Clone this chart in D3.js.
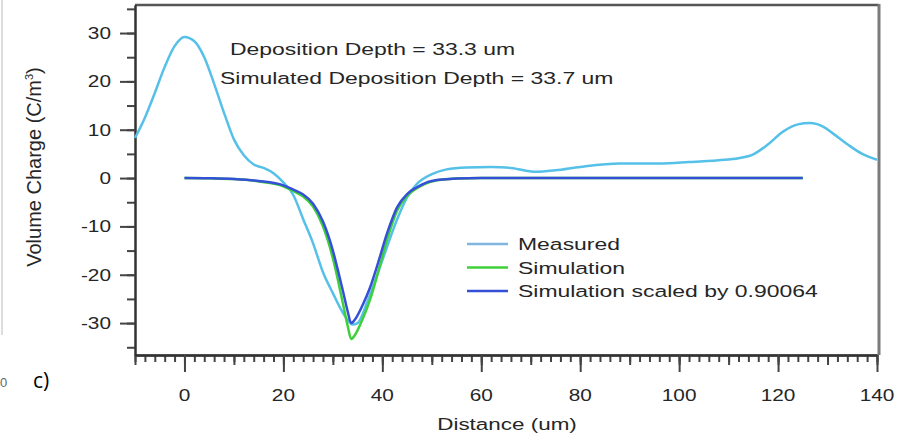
<!DOCTYPE html>
<html>
<head>
<meta charset="utf-8">
<script src="https://cdn.jsdelivr.net/npm/d3@7"></script>
<style>
  body { margin: 0; background: #fff; }
  text { font-family: "Liberation Sans", Arial, sans-serif; fill: #262626; }
</style>
</head>
<body>
<div class="chart"></div>
<script>
// measured volume charge (C/m^3) vs distance (um)
var measuredX = [-10, -8, -6, -4, -2, 0, 2, 4, 6, 8, 10, 12, 14, 16, 18, 20, 22, 24, 26, 28, 30, 32, 34, 35, 37, 40, 43, 45, 47, 50, 53, 57, 62, 66, 71, 75, 80, 88, 96, 102, 108, 112, 115, 118, 121, 124, 126.5, 129, 131, 134, 137, 140];
var measuredY = [8.3, 12.5, 17.6, 23, 27.3, 29.2, 28.3, 25, 19.5, 13.5, 8, 4.7, 2.8, 2.1, 1, -0.9, -3.5, -8.5, -13.5, -19.5, -23.8, -27.8, -30.3, -30, -25.5, -17, -8.5, -4, -1.2, 0.8, 1.8, 2.2, 2.3, 2.1, 1.3, 1.6, 2.3, 3, 3, 3.3, 3.7, 4.1, 4.9, 7, 9.6, 11.1, 11.4, 10.7, 9.3, 7, 5, 3.8];

// simulation curves share the same x samples
var simX = [0, 5, 10, 15, 20, 22, 24, 26, 28, 30, 31, 32, 33, 33.7, 34.5, 36, 37.5, 39, 41, 43, 45, 47, 50, 55, 60, 80, 100, 125];
var simY = [0, -0.05, -0.2, -0.7, -1.7, -2.7, -3.8, -5.9, -10, -16.6, -21, -25.8, -30.6, -33.3, -32.4, -29.2, -25.2, -20, -12.6, -6.7, -3.7, -2.1, -0.7, -0.1, 0, 0, 0, 0];
var scaledY = [0, -0.05, -0.2, -0.6, -1.5, -2.4, -3.4, -5.3, -9, -15, -19, -23.2, -27.6, -30, -29.2, -26.3, -22.7, -18, -11.3, -6, -3.3, -1.9, -0.6, -0.1, 0, 0, 0, 0];

var xTickValues = [0, 20, 40, 60, 80, 100, 120, 140];
var yTickValues = [-30, -20, -10, 0, 10, 20, 30];
var seriesNames = ["Measured", "Simulation", "Simulation scaled by 0.90064"];
var seriesColors = ["#55c0e8", "#3fcf3a", "#3550d6"];
var legendColors = ["#7fb6df", "#3fcf3a", "#3550d6"];
var notes = ["Deposition Depth = 33.3 um", "Simulated Deposition Depth = 33.7 um"];

var width = 897, height = 438;
var plot = {left: 135, right: 877, top: 5, bottom: 355};

var svg = d3.select(".chart").append("svg")
    .attr("width", width)
    .attr("height", height);

var x = d3.scaleLinear().domain([-10, 140]).range([plot.left, plot.right]);
var y = d3.scaleLinear().domain([-36.6, 35.8]).range([plot.bottom, plot.top]);

// text in the original is horizontally stretched
function stretch(sel, sx) {
    sel.each(function() {
        var t = d3.select(this);
        t.attr("transform", "translate(" + t.attr("x") + "," + t.attr("y") + ") scale(" + sx + ",1)")
         .attr("x", 0).attr("y", 0);
    });
}

// faint page edge on the left
svg.append("line")
    .attr("x1", 2).attr("x2", 2).attr("y1", 0).attr("y2", 335)
    .attr("stroke", "#ddd").attr("stroke-width", 2);

// frame: top and right
svg.append("line")
    .attr("x1", plot.left).attr("x2", plot.right + 2)
    .attr("y1", plot.top).attr("y2", plot.top)
    .attr("stroke", "#555").attr("stroke-width", 2.5);
svg.append("line")
    .attr("x1", plot.right + 2).attr("x2", plot.right + 2)
    .attr("y1", plot.top - 1).attr("y2", plot.bottom)
    .attr("stroke", "#7a7a7a").attr("stroke-width", 3);

// x axis ticks
function xAxis(values, size) {
    return d3.axisBottom(x).tickValues(values).tickSize(size).tickSizeOuter(0).tickFormat("");
}
var xMinor = d3.range(-10, 141, 2), xMid = d3.range(-10, 141, 10);
[[xMinor, 7], [xMid, 10], [xTickValues, 17]].forEach(function(a) {
    svg.append("g")
        .attr("transform", "translate(0," + plot.bottom + ")")
        .call(xAxis(a[0], a[1]))
        .call(function(g) {
            g.select(".domain").attr("stroke", "#333").attr("stroke-width", 2);
            g.selectAll(".tick line").attr("stroke", "#444").attr("stroke-width", 2);
        });
});

// y axis ticks
var yMinor = d3.range(-35, 36, 5);
[[yMinor, 8], [yTickValues, 15]].forEach(function(a) {
    svg.append("g")
        .attr("transform", "translate(" + plot.left + ",0)")
        .call(d3.axisLeft(y).tickValues(a[0]).tickSize(a[1]).tickSizeOuter(0).tickFormat(""))
        .call(function(g) {
            g.select(".domain").attr("stroke", "#333").attr("stroke-width", 2);
            g.selectAll(".tick line").attr("stroke", "#444").attr("stroke-width", 2);
        });
});

// tick labels
svg.append("g").selectAll("text")
    .data(xTickValues)
    .enter().append("text")
    .attr("x", function(d) { return x(d); })
    .attr("y", 401)
    .attr("text-anchor", "middle")
    .style("font-size", "16px")
    .text(function(d) { return d; })
    .call(stretch, 1.3);

svg.append("g").selectAll("text")
    .data(yTickValues)
    .enter().append("text")
    .attr("x", 111)
    .attr("y", function(d) { return y(d) + 6; })
    .attr("text-anchor", "end")
    .style("font-size", "16px")
    .text(function(d) { return d; })
    .call(stretch, 1.3);

// axis titles
svg.append("text")
    .attr("x", 507).attr("y", 430)
    .attr("text-anchor", "middle")
    .style("font-size", "17px")
    .text("Distance (um)")
    .call(stretch, 1.32);

var yTitle = svg.append("text")
    .attr("transform", "translate(41,167) rotate(-90)")
    .attr("text-anchor", "middle")
    .style("font-size", "20px");
yTitle.append("tspan").text("Volume Charge (C/m");
yTitle.append("tspan").attr("dy", -8).style("font-size", "11px").text("3");
yTitle.append("tspan").attr("dy", 8).text(")");

// curves
var line = d3.line()
    .x(function(d) { return x(d[0]); })
    .y(function(d) { return y(d[1]); })
    .curve(d3.curveMonotoneX);

var curves = [
    d3.zip(measuredX, measuredY),
    d3.zip(simX, simY),
    d3.zip(simX, scaledY)
];

svg.append("g").selectAll("path")
    .data(curves)
    .enter().append("path")
    .attr("d", line)
    .attr("fill", "none")
    .attr("stroke", function(d, i) { return seriesColors[i]; })
    .attr("stroke-width", 2.5)
    .attr("stroke-linejoin", "round");

// annotation
svg.append("g").selectAll("text")
    .data(notes)
    .enter().append("text")
    .attr("x", function(d, i) { return i ? 220 : 230; })
    .attr("y", function(d, i) { return 55 + i * 29; })
    .style("font-size", "17px")
    .text(function(d) { return d; })
    .call(stretch, 1.35);

// legend
var legend = svg.append("g").selectAll("g")
    .data(seriesNames)
    .enter().append("g")
    .attr("transform", function(d, i) { return "translate(467," + (244 + i * 23.5) + ")"; });
legend.append("line")
    .attr("x1", 0).attr("x2", 41)
    .attr("stroke", function(d, i) { return legendColors[i]; })
    .attr("stroke-width", 2.5);
legend.append("text")
    .attr("x", 51).attr("y", 6)
    .style("font-size", "17px")
    .text(function(d) { return d; })
    .call(stretch, 1.35);

// panel label and neighbour label at the edge
svg.append("text")
    .attr("x", 33).attr("y", 388)
    .style("font-family", "'Open Sans', sans-serif")
    .style("font-size", "21px")
    .style("fill", "#000")
    .text("c)");
svg.append("text")
    .attr("x", 0).attr("y", 387)
    .style("font-size", "13px")
    .style("fill", "#666")
    .text("0");
</script>
</body>
</html>
